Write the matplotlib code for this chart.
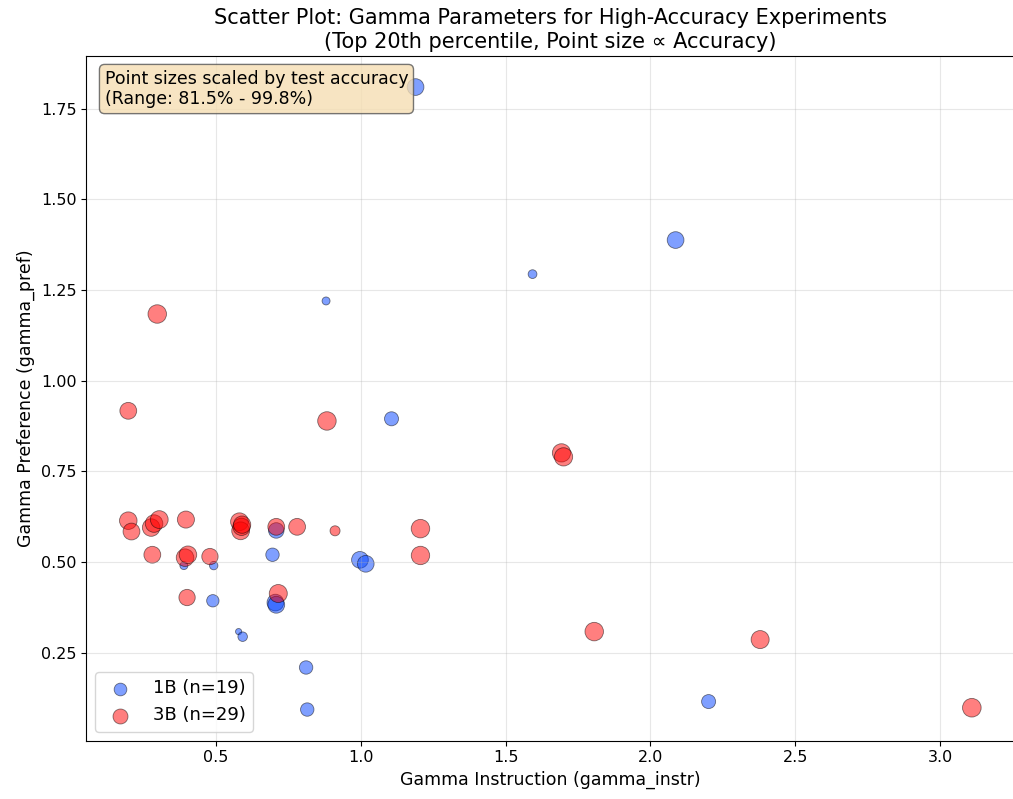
import matplotlib
matplotlib.use("Agg")
import matplotlib.pyplot as plt

# 1B experiments
gamma_instr_1b = [1.189, 2.087, 1.593, 0.880, 1.106, 0.695, 0.997, 1.017, 0.492, 0.489,
                  0.705, 0.708, 0.578, 0.592, 0.811, 0.815, 2.201, 0.708, 0.389]
gamma_pref_1b = [1.810, 1.388, 1.294, 1.220, 0.895, 0.520, 0.506, 0.495, 0.490, 0.393,
                 0.388, 0.382, 0.308, 0.294, 0.209, 0.093, 0.115, 0.587, 0.490]
acc_1b = [95.8, 95.8, 83.8, 83.0, 90.9, 89.9, 95.8, 95.8, 83.4, 88.3,
          95.8, 96.0, 81.5, 84.6, 89.9, 89.9, 90.9, 93.5, 83.0]

# 3B experiments
gamma_instr_3b = [0.197, 0.208, 0.276, 0.286, 0.304, 0.396, 0.581, 0.585, 0.588, 0.708,
                  0.780, 0.911, 1.206, 1.206, 0.280, 0.393, 0.403, 0.479, 0.400, 0.715,
                  0.297, 0.197, 0.883, 1.693, 1.700, 1.806, 2.379, 3.110, 0.590]
gamma_pref_3b = [0.614, 0.584, 0.595, 0.606, 0.617, 0.617, 0.611, 0.586, 0.597, 0.597,
                 0.597, 0.586, 0.592, 0.518, 0.520, 0.512, 0.520, 0.515, 0.402, 0.413,
                 1.184, 0.917, 0.889, 0.801, 0.790, 0.308, 0.286, 0.098, 0.603]
acc_3b = [97.5, 96.0, 97.5, 97.5, 98.0, 96.5, 98.0, 98.0, 97.0, 96.0,
          96.0, 85.2, 99.5, 99.3, 96.0, 97.5, 97.5, 95.0, 95.0, 98.5,
          99.5, 96.0, 99.5, 99.0, 99.0, 99.5, 98.5, 99.8, 97.0]

acc_min = min(acc_1b + acc_3b)
acc_max = max(acc_1b + acc_3b)


def point_sizes(acc):
    return [20 + (a - acc_min) / (acc_max - acc_min) * 160 for a in acc]


fig, ax = plt.subplots(figsize=(10.13, 7.99), dpi=100)
fig.subplots_adjust(left=0.085, right=1.001, bottom=0.073, top=0.930)

ax.scatter(gamma_instr_1b, gamma_pref_1b, s=point_sizes(acc_1b), color='#0040ff',
           alpha=0.5, edgecolors='black', linewidths=0.6,
           label=f'1B (n={len(gamma_instr_1b)})')
ax.scatter(gamma_instr_3b, gamma_pref_3b, s=point_sizes(acc_3b), color='red',
           alpha=0.5, edgecolors='black', linewidths=0.6,
           label=f'3B (n={len(gamma_instr_3b)})')

ax.set_xlabel('Gamma Instruction (gamma_instr)', fontsize=12.5)
ax.set_ylabel('Gamma Preference (gamma_pref)', fontsize=12.5)
ax.set_title('Scatter Plot: Gamma Parameters for High-Accuracy Experiments\n'
             '(Top 20th percentile, Point size \u221d Accuracy)', fontsize=15)
ax.tick_params(labelsize=11.5)
ax.grid(True, alpha=0.3)
ax.legend(loc='lower left', fontsize=13)

ax.text(0.02, 0.98,
        f'Point sizes scaled by test accuracy\n(Range: {acc_min:.1f}% - {acc_max:.1f}%)',
        transform=ax.transAxes, fontsize=12.5, va='top',
        bbox=dict(boxstyle='round', facecolor='wheat', edgecolor='#555555', alpha=0.8))

fig.savefig('out.png', dpi=100)
